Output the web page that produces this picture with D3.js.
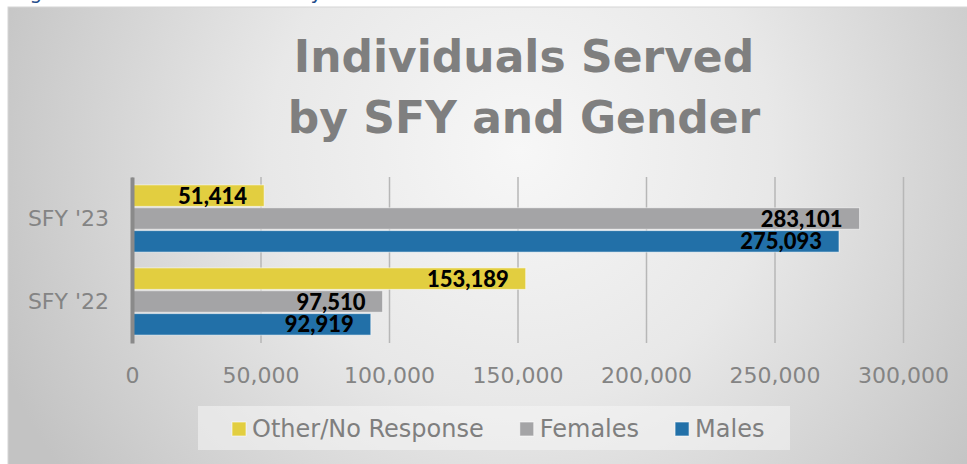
<!DOCTYPE html>
<html>
<head>
<meta charset="utf-8">
<script src="https://cdn.jsdelivr.net/npm/d3@7"></script>
<style>
  html, body { margin: 0; padding: 0; background: #fff; }
  svg { display: block; }
</style>
</head>
<body>
<div id="chart"></div>
<script>
// chart values
const categories = ["SFY '23", "SFY '22"]
const seriesNames = ["Other/No Response", "Females", "Males"]
const otherValues = [51414, 153189]
const femaleValues = [283101, 97510]
const maleValues = [275093, 92919]
const tickValues = [0, 50000, 100000, 150000, 200000, 250000, 300000]
const seriesColors = ["#e2ce40", "#a4a4a6", "#2270a8"]

const W = 967, H = 464

const svg = d3.select("#chart").append("svg")
  .attr("width", W)
  .attr("height", H)

// background gradient for the panel
const defs = svg.append("defs")
const grad = defs.append("radialGradient")
  .attr("id", "bg")
  .attr("gradientUnits", "userSpaceOnUse")
  .attr("cx", 520).attr("cy", 150).attr("r", 560)
grad.append("stop").attr("offset", "0").attr("stop-color", "#f7f7f7")
grad.append("stop").attr("offset", "0.45").attr("stop-color", "#e8e8e8")
grad.append("stop").attr("offset", "1").attr("stop-color", "#c3c3c3")

// caption cut off at the top of the page
svg.append("text")
  .attr("x", 14).attr("y", -1)
  .attr("font-family", "DejaVu Sans")
  .attr("font-size", 20)
  .attr("fill", "#1f4e8c")
  .text("Figure 5: Individuals Served by SFY and Gender")

svg.append("rect")
  .attr("x", 8).attr("y", 7)
  .attr("width", W).attr("height", H)
  .attr("fill", "url(#bg)")
  .attr("stroke", "#d6d6d6")

// title
const title = svg.append("text")
  .attr("text-anchor", "middle")
  .attr("font-family", "DejaVu Sans")
  .attr("font-weight", "bold")
  .attr("font-size", 44)
  .attr("fill", "#7f7f7f")
title.append("tspan").attr("x", 524).attr("y", 72).text("Individuals Served")
title.append("tspan").attr("x", 524).attr("y", 133).text("by SFY and Gender")

// scales
const x = d3.scaleLinear().domain([0, 300000]).range([132, 903])
const y = d3.scaleBand().domain(categories).range([177, 343])
  .paddingInner(0.19).paddingOuter(0.095)
const ySub = d3.scaleBand().domain(seriesNames).range([0, y.bandwidth()]).paddingInner(0.06)
const color = d3.scaleOrdinal().domain(seriesNames).range(seriesColors)

const rows = categories.map((c, i) => ({
  cat: c,
  values: [
    { name: seriesNames[0], value: otherValues[i] },
    { name: seriesNames[1], value: femaleValues[i] },
    { name: seriesNames[2], value: maleValues[i] }
  ]
}))

// x axis with gridlines
const xAxis = svg.append("g")
  .attr("transform", `translate(0,${y.range()[1]})`)
  .call(d3.axisBottom(x)
    .tickValues(tickValues)
    .tickSize(-(y.range()[1] - y.range()[0]))
    .tickPadding(24)
    .tickFormat(d3.format(",")))
xAxis.select(".domain").remove()
xAxis.selectAll(".tick line").attr("stroke", "#b7b7b7").attr("stroke-width", 1.5)
xAxis.selectAll(".tick text")
  .attr("font-family", "DejaVu Sans")
  .attr("font-size", 22)
  .attr("fill", "#848484")

// bars
const groups = svg.append("g").selectAll("g")
  .data(rows)
  .join("g")
  .attr("transform", d => `translate(0,${y(d.cat)})`)

groups.selectAll("rect")
  .data(d => d.values)
  .join("rect")
  .attr("x", x(0))
  .attr("y", d => ySub(d.name))
  .attr("width", d => x(d.value) - x(0))
  .attr("height", ySub.bandwidth())
  .attr("fill", d => color(d.name))
  .attr("stroke", "rgba(255,255,255,0.55)")
  .attr("stroke-width", 1)

groups.selectAll("text")
  .data(d => d.values)
  .join("text")
  .attr("x", d => x(d.value) - 17)
  .attr("y", d => ySub(d.name) + ySub.bandwidth() / 2)
  .attr("dy", "0.37em")
  .attr("text-anchor", "end")
  .attr("font-family", "Lato")
  .attr("font-weight", 900)
  .attr("font-size", 22)
  .attr("fill", "#000")
  .text(d => d3.format(",")(d.value))

// y axis (category labels + thick axis line)
const yAxis = svg.append("g")
  .attr("transform", `translate(${x(0)},0)`)
  .call(d3.axisLeft(y).tickSize(0).tickPadding(23))
yAxis.select(".domain").attr("stroke", "#8a8a8a").attr("stroke-width", 4)
yAxis.selectAll(".tick text")
  .attr("font-family", "DejaVu Sans")
  .attr("font-size", 22)
  .attr("fill", "#848484")

// legend
const legend = svg.append("g")
legend.append("rect")
  .attr("x", 198).attr("y", 406)
  .attr("width", 592).attr("height", 44)
  .attr("fill", "rgba(245,245,245,0.55)")

let lx = 232
seriesNames.forEach(name => {
  const item = legend.append("g").attr("transform", `translate(${lx},0)`)
  item.append("rect")
    .attr("x", 0).attr("y", 422)
    .attr("width", 14).attr("height", 14)
    .attr("fill", color(name))
    .attr("stroke", "rgba(255,255,255,0.6)")
  const t = item.append("text")
    .attr("x", 20).attr("y", 437)
    .attr("font-family", "DejaVu Sans")
    .attr("font-size", 24)
    .attr("fill", "#7f7f7f")
    .text(name)
  lx += 20 + t.node().getComputedTextLength() + 36
})
</script>
</body>
</html>
